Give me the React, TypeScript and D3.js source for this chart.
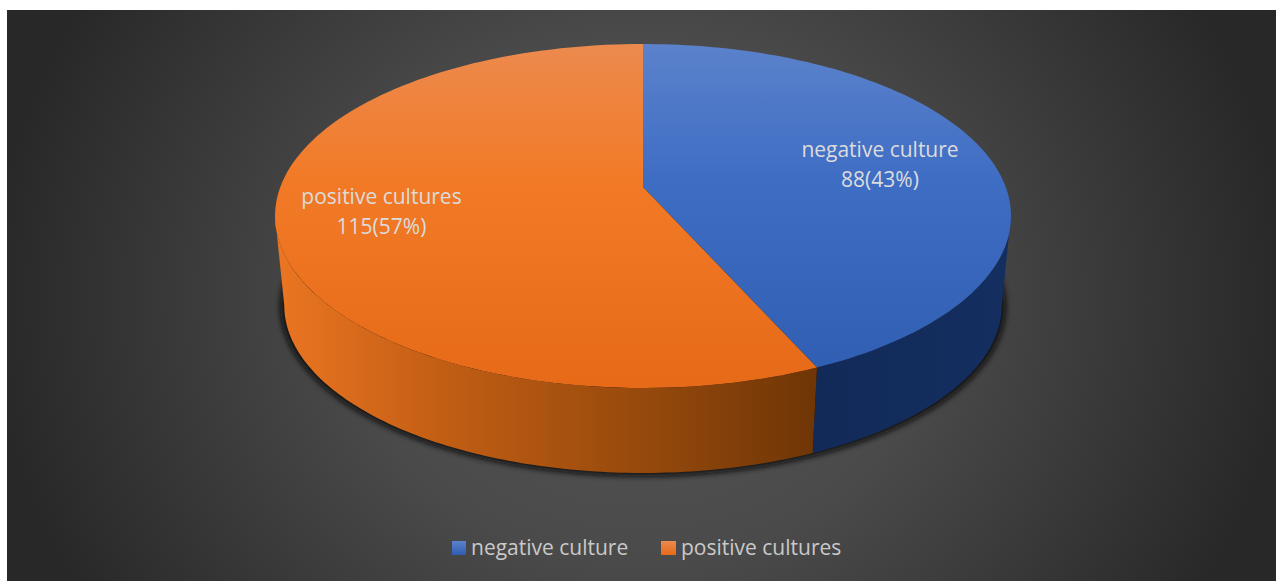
import React, { useMemo } from "react";
import * as d3 from "d3";

// Culture results
const categories = ["negative culture", "positive cultures"];
const counts = [88, 115];
const shares = ["43%", "57%"];

const WIDTH = 1276;
const HEIGHT = 581;

// Tilted disc: a unit circle seen in perspective, with the far edge compressed.
const CX = 643;
const TOP_Y = 187;
const BASE_Y = 277;
const RX = 362.7;
const RY = 167.1;
const PERSPECTIVE = 0.1686;
const BASE_SCALE = 0.975;

const project = (angle: number, scale: number, y0: number): [number, number] => {
  const u = Math.sin(angle);
  const v = -Math.cos(angle);
  const w = 1 - PERSPECTIVE * v;
  return [CX + (scale * RX * u) / w, y0 + (scale * RY * v) / w];
};

const sampleAngles = (a0: number, a1: number) =>
  d3.range(0, 121).map((i) => a0 + ((a1 - a0) * i) / 120);

// The wall is only visible between the two silhouette tangents of the rim.
const FRONT_START = Math.acos(-PERSPECTIVE);
const FRONT_END = 2 * Math.PI - FRONT_START;

const path = d3.line<[number, number]>();

export default function App() {
  const slices = useMemo(() => d3.pie<number>().sort(null)(counts), []);

  const faces = slices.map((s) => {
    const rim = sampleAngles(s.startAngle, s.endAngle).map((a) => project(a, 1, TOP_Y));
    return path([[CX, TOP_Y], ...rim])! + "Z";
  });
  const walls = slices.map((s) => {
    const angles = sampleAngles(
      Math.max(s.startAngle, FRONT_START),
      Math.min(s.endAngle, FRONT_END)
    );
    const upper = angles.map((a) => project(a, 1, TOP_Y));
    const lower = angles.map((a) => project(a, BASE_SCALE, BASE_Y)).reverse();
    return path([...upper, ...lower])! + "Z";
  });
  const shadowOutline =
    path(sampleAngles(0, 2 * Math.PI).map((a) => project(a, 0.985, BASE_Y - 1)))! + "Z";

  const font = "'Open Sans', sans-serif";

  return (
    <svg
      width={WIDTH}
      height={HEIGHT}
      viewBox={`0 0 ${WIDTH} ${HEIGHT}`}
      style={{ position: "absolute", left: 0, top: 0, display: "block", background: "#fff" }}
    >
      <defs>
        <radialGradient id="bg" gradientUnits="userSpaceOnUse" cx={640} cy={300} r={650}
          gradientTransform="translate(640 300) scale(1 0.9) translate(-640 -300)">
          <stop offset="0" stopColor="#565656" />
          <stop offset="0.45" stopColor="#4a4a4a" />
          <stop offset="1" stopColor="#282828" />
        </radialGradient>
        <linearGradient id="face0" gradientUnits="userSpaceOnUse" x1={0} x2={0} y1={44} y2={388}>
          <stop offset="0" stopColor="#5b82cb" />
          <stop offset="0.4" stopColor="#3e6dc4" />
          <stop offset="1" stopColor="#2f5db0" />
        </linearGradient>
        <linearGradient id="face1" gradientUnits="userSpaceOnUse" x1={0} x2={0} y1={44} y2={388}>
          <stop offset="0" stopColor="#ec8a4e" />
          <stop offset="0.4" stopColor="#f27a26" />
          <stop offset="1" stopColor="#e66a18" />
        </linearGradient>
        <linearGradient id="wall0" gradientUnits="userSpaceOnUse" x1={815} x2={1010} y1={0} y2={0}>
          <stop offset="0" stopColor="#112a58" />
          <stop offset="1" stopColor="#142e60" />
        </linearGradient>
        <linearGradient id="wall1" gradientUnits="userSpaceOnUse" x1={280} x2={818} y1={0} y2={0}>
          <stop offset="0" stopColor="#ea7522" />
          <stop offset="0.3" stopColor="#c25e14" />
          <stop offset="0.7" stopColor="#93480c" />
          <stop offset="1" stopColor="#6e3506" />
        </linearGradient>
        <linearGradient id="key0" x1={0} x2={0} y1={0} y2={1}>
          <stop offset="0" stopColor="#5b82cb" />
          <stop offset="1" stopColor="#2f5db0" />
        </linearGradient>
        <linearGradient id="key1" x1={0} x2={0} y1={0} y2={1}>
          <stop offset="0" stopColor="#ec8a4e" />
          <stop offset="1" stopColor="#e66a18" />
        </linearGradient>
        <filter id="soft" x="-10%" y="-10%" width="120%" height="120%">
          <feGaussianBlur stdDeviation="3" />
        </filter>
      </defs>

      <rect x={7} y={10} width={WIDTH - 7} height={HEIGHT - 10} fill="url(#bg)" />

      {/* Contact shadow under the disc */}
      <path d={shadowOutline} fill="#0c0c0c" filter="url(#soft)" transform="translate(0 2)" />

      {walls.map((d, i) => (
        <path key={categories[i]} d={d} fill={`url(#wall${i})`} />
      ))}
      {faces.map((d, i) => (
        <path key={categories[i]} d={d} fill={`url(#face${i})`} />
      ))}

      <g fontFamily={font} fontSize={21} fill="#dcdcdc" textAnchor="middle">
        <text x={880} y={157}>{categories[0]}</text>
        <text x={880} y={187}>{`${counts[0]}(${shares[0]})`}</text>
        <text x={381.5} y={204}>{categories[1]}</text>
        <text x={381.5} y={234}>{`${counts[1]}(${shares[1]})`}</text>
      </g>

      <g fontFamily={font} fontSize={21} fill="#c9c9c9">
        <rect x={452} y={541} width={14} height={14} fill="url(#key0)" />
        <text x={471} y={555}>{categories[0]}</text>
        <rect x={661} y={541} width={15} height={14} fill="url(#key1)" />
        <text x={681} y={555}>{categories[1]}</text>
      </g>
    </svg>
  );
}
